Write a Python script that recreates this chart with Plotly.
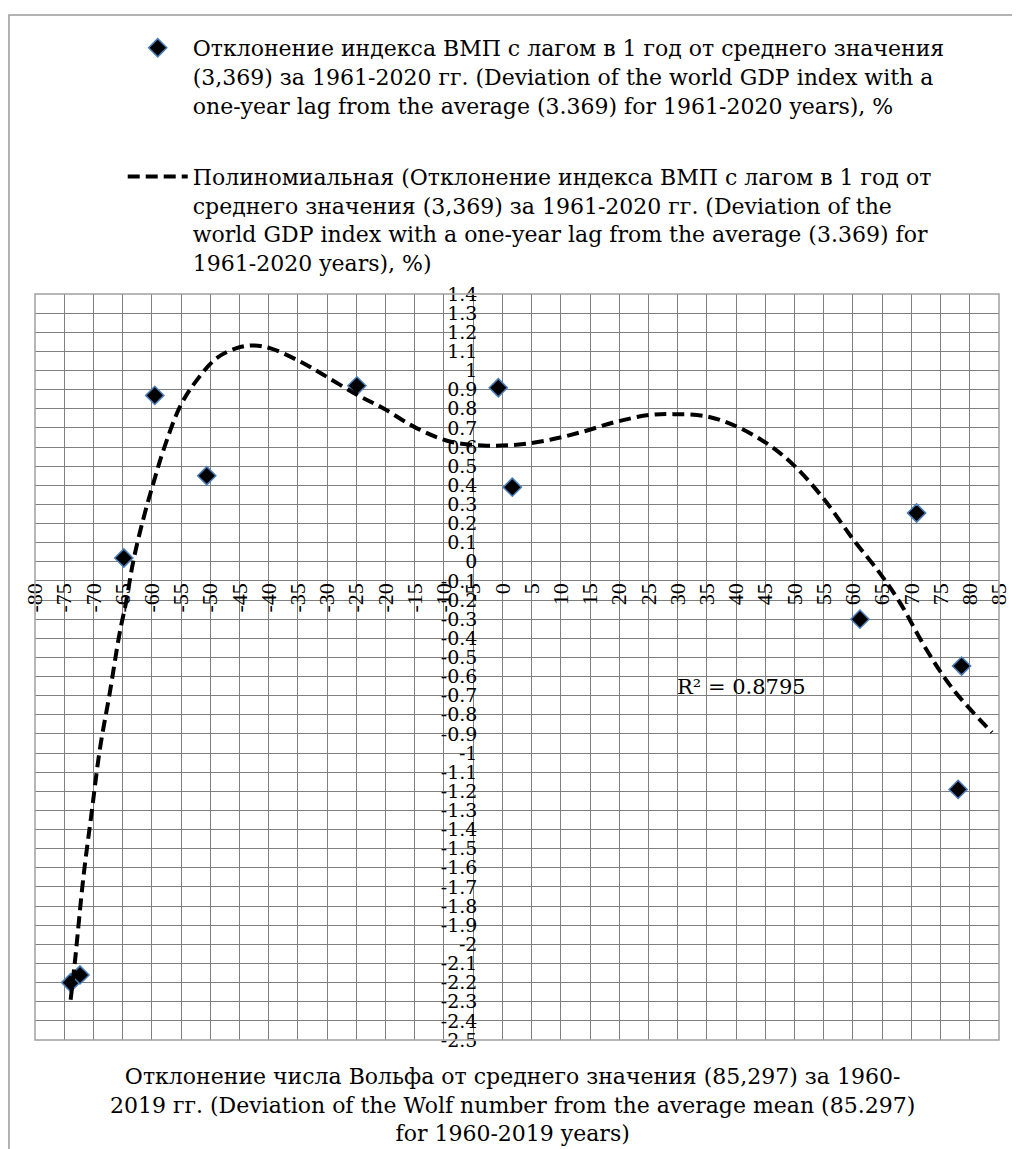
import plotly.graph_objects as go

# scatter points (Wolf number deviation vs lagged GDP index deviation)
wolf_dev = [-73.9, -72.3, -64.8, -59.5, -50.6, -24.9, -0.7, 1.7, 61.2, 70.9, 78.0, 78.6]
gdp_dev = [-2.20, -2.16, 0.02, 0.87, 0.45, 0.92, 0.91, 0.39, -0.30, 0.255, -1.19, -0.545]

# polynomial trendline
trend_x = [-73.9, -73.2, -71.7, -70.3, -68.9, -67.2, -65.5, -64.4, -63.2, -61.5,
           -59.75, -58.0, -55.2, -52.3, -48.9, -45.5, -42.6, -39.8, -35.2, -30.65,
           -24.9, -20.4, -14.7, -9.0, -3.3, 2.45, 8.15, 13.85, 19.6, 25.3,
           29.3, 35.0, 40.1, 45.2, 49.8, 54.9, 60.1, 64.6, 68.1, 72.6, 77.2, 83.8]
trend_y = [-2.29, -2.10, -1.645, -1.31, -0.98, -0.685, -0.37, -0.21, 0.0, 0.22,
           0.41, 0.585, 0.81, 0.95, 1.065, 1.117, 1.131, 1.117, 1.056, 0.978,
           0.873, 0.803, 0.699, 0.629, 0.608, 0.612, 0.638, 0.681, 0.733, 0.768,
           0.772, 0.760, 0.707, 0.620, 0.507, 0.333, 0.115, -0.059, -0.216, -0.46,
           -0.669, -0.892]

r2_text = "R² = 0.8795"

x_min, x_max = -80, 85
y_min, y_max = -2.5, 1.4

x_ticks = list(range(-80, 90, 5))
x_labels = [str(v) for v in x_ticks]
y_ticks = [round(-2.5 + 0.1 * i, 1) for i in range(40)]
y_labels = [("%g" % v) for v in y_ticks]

scatter_name = ("Отклонение индекса ВМП с лагом в 1 год от среднего значения<br>"
                "(3,369) за 1961-2020 гг. (Deviation of the world GDP index with a<br>"
                "one-year lag from the average (3.369) for 1961-2020 years), %")
trend_name = ("Полиномиальная (Отклонение индекса ВМП с лагом в 1 год от<br>"
              "среднего значения (3,369) за 1961-2020 гг. (Deviation of the<br>"
              "world GDP index with a one-year lag from the average (3.369) for<br>"
              "1961-2020 years), %)")
x_title = ("Отклонение числа Вольфа от среднего значения (85,297) за 1960-<br>"
           "2019 гг. (Deviation of the Wolf number from the average mean (85.297)<br>"
           "for 1960-2019 years)")

SERIF = "DejaVu Serif"
GRID = "#7f7f7f"

fig = go.Figure()
fig.add_trace(go.Scatter(
    x=wolf_dev, y=gdp_dev, mode="markers", name=scatter_name,
    legendgroup="a",
    marker=dict(symbol="diamond", size=14, color="black",
                line=dict(color="#4a7ebb", width=1.5)),
))
fig.add_trace(go.Scatter(
    x=trend_x, y=trend_y, mode="lines", name=trend_name,
    legendgroup="b", line_shape="spline",
    line=dict(color="black", width=4, dash="12px,6px"),
))

# page body has an 8px margin, so the figure is 8px smaller and margins shifted
fig.update_layout(
    width=1012, height=1141,
    margin=dict(l=27, r=21, t=286, b=109, autoexpand=False),
    plot_bgcolor="white", paper_bgcolor="white",
    font=dict(family=SERIF, size=21, color="black"),
    legend=dict(
        x=0.091, y=1.358, xanchor="left", yanchor="top",
        font=dict(family=SERIF, size=22),
        valign="top", itemwidth=60, tracegroupgap=40,
        bgcolor="rgba(0,0,0,0)",
    ),
    xaxis=dict(
        range=[x_min, x_max], anchor="free",
        position=(0 - y_min) / (y_max - y_min),
        tickmode="array", tickvals=x_ticks, ticktext=x_labels,
        tickangle=-90, ticks="", ticklabelstandoff=16,
        tickfont=dict(family="Liberation Serif", size=22),
        showgrid=True, gridcolor=GRID, gridwidth=1,
        zeroline=False, showline=False,
    ),
    yaxis=dict(
        range=[y_min - 0.0001, y_max + 0.0001], anchor="free",
        position=(0 - x_min) / (x_max - x_min),
        tickmode="array", tickvals=y_ticks, ticktext=y_labels,
        ticks="", ticklabelstandoff=25,
        tickfont=dict(family=SERIF, size=19),
        showgrid=True, gridcolor=GRID, gridwidth=1,
        zeroline=False, showline=False,
    ),
    shapes=[
        dict(type="rect", xref="paper", yref="paper", x0=0, x1=1, y0=0, y1=1,
             line=dict(color="#a0a0a0", width=1.5)),
        dict(type="rect", xref="paper", yref="paper", x0=-0.027, x1=1.1,
             y0=-0.3, y1=1.374, line=dict(color="#9a9a9a", width=1.5)),
    ],
    annotations=[
        dict(x=29.6, y=-0.655, xref="x", yref="y", text=r2_text,
             showarrow=False, xanchor="left", yanchor="middle",
             font=dict(family=SERIF, size=21)),
        dict(x=0.495, y=-0.03, xref="paper", yref="paper", text=x_title,
             showarrow=False, xanchor="center", yanchor="top",
             font=dict(family=SERIF, size=22)),
    ],
)

fig.write_html("out.html")
